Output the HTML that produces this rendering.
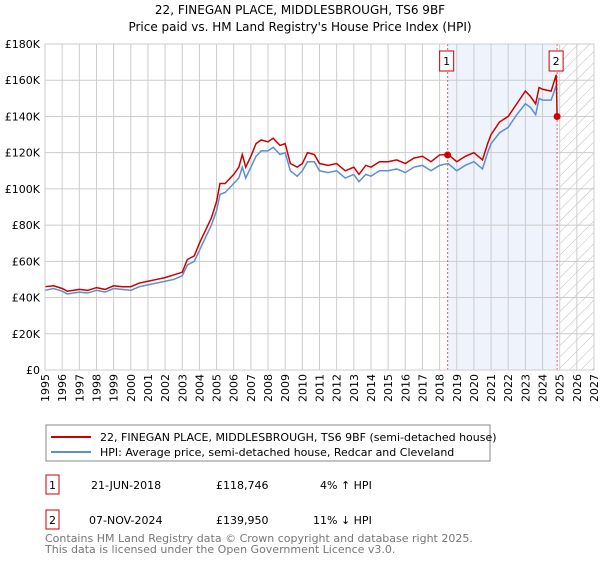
<!DOCTYPE html>
<html><head><meta charset="utf-8">
<style>
body{margin:0;background:#fff;font-family:"Liberation Sans","DejaVu Sans",sans-serif;}
svg text{font-family:"DejaVu Sans","Liberation Sans",sans-serif;}
</style></head>
<body>
<svg id="chart" width="600" height="560" viewBox="0 0 600 560" xmlns="http://www.w3.org/2000/svg">
<defs>
<pattern id="hatch" patternUnits="userSpaceOnUse" width="8" height="8" patternTransform="rotate(45)">
<line x1="0" y1="0" x2="0" y2="8" stroke="#bbb" stroke-width="1"/>
</pattern>
</defs>
<text x="300" y="14" text-anchor="middle" font-size="12" fill="#000">22, FINEGAN PLACE, MIDDLESBROUGH, TS6 9BF</text>
<text x="300" y="31" text-anchor="middle" font-size="12" fill="#000">Price paid vs. HM Land Registry's House Price Index (HPI)</text>
<g id="plot"></g>
<g id="legend">
<rect x="46" y="425" width="444" height="36" fill="#fff" stroke="#888"/>
<line x1="51" y1="437" x2="91" y2="437" stroke="#cc0000" stroke-width="2"/>
<text x="100" y="441" font-size="11">22, FINEGAN PLACE, MIDDLESBROUGH, TS6 9BF (semi-detached house)</text>
<line x1="51" y1="452" x2="91" y2="452" stroke="#5b8fd0" stroke-width="2"/>
<text x="100" y="456" font-size="11">HPI: Average price, semi-detached house, Redcar and Cleveland</text>
</g>
<g>
<rect x="46" y="475" width="13" height="19" fill="#fff" stroke="#cc0000"/>
<text x="52.5" y="489" text-anchor="middle" font-size="11">1</text>
<text x="91" y="489" font-size="11">21-JUN-2018</text>
<text x="216" y="489" font-size="11">£118,746</text>
<text x="320" y="489" font-size="11">4% ↑ HPI</text>
<rect x="46" y="510" width="13" height="19" fill="#fff" stroke="#cc0000"/>
<text x="52.5" y="524" text-anchor="middle" font-size="11">2</text>
<text x="89" y="524" font-size="11">07-NOV-2024</text>
<text x="216" y="524" font-size="11">£139,950</text>
<text x="313" y="524" font-size="11">11% ↓ HPI</text>
</g>
<text x="45" y="542" font-size="11" fill="#777">Contains HM Land Registry data © Crown copyright and database right 2025.</text>
<text x="45" y="553" font-size="11" fill="#777">This data is licensed under the Open Government Licence v3.0.</text>
</svg>
<script>
const yearTicks = [1995,1996,1997,1998,1999,2000,2001,2002,2003,2004,2005,2006,2007,2008,2009,2010,2011,2012,2013,2014,2015,2016,2017,2018,2019,2020,2021,2022,2023,2024,2025,2026,2027];
const valueTicks = [0,20000,40000,60000,80000,100000,120000,140000,160000,180000];
const valueTickLabels = ["£0","£20K","£40K","£60K","£80K","£100K","£120K","£140K","£160K","£180K"];
const hpiYears = [1995,1995.5,1996,1996.3,1997,1997.5,1998,1998.5,1999,1999.5,2000,2000.5,2001,2001.5,2002,2002.5,2003,2003.3,2003.7,2004,2004.3,2004.7,2005,2005.2,2005.5,2006,2006.3,2006.5,2006.7,2007,2007.3,2007.6,2008,2008.3,2008.7,2009,2009.3,2009.7,2010,2010.3,2010.7,2011,2011.5,2012,2012.5,2013,2013.3,2013.7,2014,2014.5,2015,2015.5,2016,2016.5,2017,2017.5,2018,2018.5,2019,2019.5,2020,2020.5,2020.8,2021,2021.5,2022,2022.5,2023,2023.3,2023.6,2023.8,2024,2024.5,2024.8];
const hpiValues = [44000,45000,43500,42000,43000,42500,44000,43000,45000,44500,44000,46000,47000,48000,49000,50000,52000,58000,60000,66000,72000,80000,88000,97000,98000,103000,106000,112000,106000,112000,118000,121000,121000,123000,119000,120000,110000,107000,110000,115000,115000,110000,109000,110000,106000,108000,104000,108000,107000,110000,110000,111000,109000,112000,113000,110000,113000,114000,110000,113000,115000,111000,120000,125000,131000,134000,141000,147000,145000,141000,150000,149000,149000,157000];
const priceYears = [1995,1995.5,1996,1996.3,1997,1997.5,1998,1998.5,1999,1999.5,2000,2000.5,2001,2001.5,2002,2002.5,2003,2003.3,2003.7,2004,2004.3,2004.7,2005,2005.2,2005.5,2006,2006.3,2006.5,2006.7,2007,2007.3,2007.6,2008,2008.3,2008.7,2009,2009.3,2009.7,2010,2010.3,2010.7,2011,2011.5,2012,2012.5,2013,2013.3,2013.7,2014,2014.5,2015,2015.5,2016,2016.5,2017,2017.5,2018,2018.5,2019,2019.5,2020,2020.5,2020.8,2021,2021.5,2022,2022.5,2023,2023.3,2023.6,2023.8,2024,2024.5,2024.8,2024.85];
const priceValues = [46000,46500,45000,43500,44500,44000,45500,44500,46500,46000,46000,48000,49000,50000,51000,52500,54000,61000,63000,70000,76000,84000,93000,103000,103000,108000,112000,119000,112000,118000,125000,127000,126000,128000,124000,125000,114000,112000,114000,120000,119000,114000,113000,114000,110000,112000,108000,113000,112000,115000,115000,116000,114000,117000,118000,115000,118746,119000,115000,118000,120000,116000,125000,130000,137000,140000,147000,154000,151000,147000,156000,155000,154000,163000,139950];
const sales = [{n:"1",year:2018.47,value:118746},{n:"2",year:2024.85,value:139950}];

const NS="http://www.w3.org/2000/svg";
const L=45,R=594,T=44,B=370,X0=1995,X1=2027,YMAX=180000;
const xs=y=>L+(y-X0)/(X1-X0)*(R-L);
const ys=v=>B-v/YMAX*(B-T);
const plot=document.getElementById('plot');
function mk(tag,attrs,parent){const e=document.createElementNS(NS,tag);for(const k in attrs)e.setAttribute(k,attrs[k]);(parent||plot).appendChild(e);return e;}

const bg=mk('rect',{x:L,y:T,width:R-L,height:B-T,fill:'#fff'});


const hl=mk('rect',{x:xs(sales[0].year),y:T,width:xs(sales[1].year)-xs(sales[0].year),height:B-T,fill:'#eef3fc'});


const ht=mk('rect',{x:xs(2025),y:T,width:R-xs(2025),height:B-T,fill:'url(#hatch)'});



yearTicks.forEach(y=>{
  const g=mk('line',{x1:xs(y),x2:xs(y),y1:T,y2:B,stroke:'#ccc','stroke-width':1});
  
  
  const tx=xs(y)+4, ty=B+4;
  const t=mk('text',{x:tx,y:ty,'font-size':11,'text-anchor':'end',transform:'rotate(-90 '+tx+' '+ty+')'});
  t.textContent=y;
  
  
});
valueTicks.forEach((v,i)=>{
  const g=mk('line',{x1:L,x2:R,y1:ys(v),y2:ys(v),stroke:'#ccc','stroke-width':1});
  
  
  const t=mk('text',{x:L-5,y:ys(v)+4,'font-size':11,'text-anchor':'end'});
  t.textContent=valueTickLabels[i];
  
  
});

sales.forEach(s=>{
  const l=mk('line',{x1:xs(s.year),x2:xs(s.year),y1:T,y2:B,stroke:'#e06060','stroke-width':1,'stroke-dasharray':'2,2'});
  
  
});

const hp=mk('polyline',{points:hpiYears.map((y,i)=>xs(y)+','+ys(hpiValues[i])).join(' '),fill:'none',stroke:'#5b8fd0','stroke-width':1.5});


const pp=mk('polyline',{points:priceYears.map((y,i)=>xs(y)+','+ys(priceValues[i])).join(' '),fill:'none',stroke:'#cc0000','stroke-width':1.5});



sales.forEach(s=>{
  const c=mk('circle',{cx:xs(s.year),cy:ys(s.value),r:3.5,fill:'#cc0000'});
  
  
  const b=mk('rect',{x:xs(s.year)-8,y:51,width:14,height:20,fill:'#fff',stroke:'#cc0000'});
  
  
  const t=mk('text',{x:xs(s.year)-1,y:65,'font-size':11,'text-anchor':'middle'});
  t.textContent=s.n;
  
  
});
const fr=mk('rect',{x:L,y:T,width:R-L,height:B-T,fill:'none',stroke:'#ccc'});


</script>
</body></html>
